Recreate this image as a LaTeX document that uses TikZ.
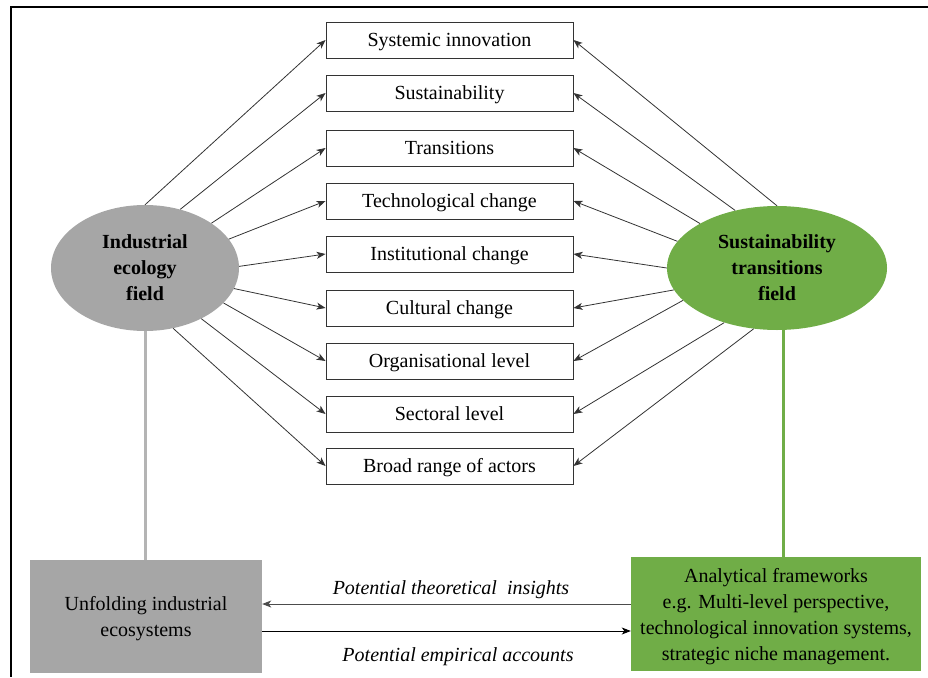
\documentclass[tikz,border=0pt]{standalone}
\usepackage{fontspec}
\setmainfont{Liberation Serif}
\usetikzlibrary{arrows.meta,shapes.geometric}
\definecolor{iegray}{HTML}{A6A6A6}
\definecolor{stgreen}{HTML}{70AD47}
\definecolor{linegray}{HTML}{B4B4B4}
\begin{document}
\begin{tikzpicture}[x=1pt,y=-1pt,
  font=\fontsize{20}{26}\selectfont,
  topic/.style={draw=black!80, line width=0.9pt, minimum width=247pt, minimum height=36pt, inner sep=0pt, text height=16pt, text depth=4pt},
  field/.style={ellipse, inner sep=0pt, align=center, text depth=-4pt, font=\fontsize{20}{26}\selectfont\bfseries},
  panel/.style={inner sep=0pt, align=center, text depth=-1.7pt, font=\fontsize{20}{26}\selectfont},
  link/.style={draw=black!80, line width=0.8pt, -{Stealth[length=9pt,width=7pt,inset=2.5pt]}},
  flow/.style={line width=0.9pt, -{Stealth[length=9pt,width=7pt,inset=2.5pt]}},
  stem/.style={line width=3pt},
  note/.style={font=\fontsize{20}{26}\selectfont\itshape}
]
\useasboundingbox (0,0) rectangle (928,677);
\draw[line width=2pt] (928,7) -- (11,7) -- (11,677);

\node[topic] (b1) at (449.5,40)  {Systemic innovation};
\node[topic] (b2) at (449.5,93)  {Sustainability};
\node[topic] (b3) at (449.5,148) {Transitions};
\node[topic] (b4) at (449.5,201) {Technological change};
\node[topic] (b5) at (449.5,254) {Institutional change};
\node[topic] (b6) at (449.5,308) {Cultural change};
\node[topic] (b7) at (449.5,361) {Organisational level};
\node[topic] (b8) at (449.5,414) {Sectoral level};
\node[topic] (b9) at (449.5,466) {Broad range of actors};

\node[field, fill=iegray, minimum width=188pt, minimum height=126pt] (L) at (145,268) {Industrial\\ecology\\field};
\node[field, fill=stgreen, minimum width=220pt, minimum height=124pt] (R) at (777,268) {Sustainability\\transitions\\field};

\foreach \i/\a in {1/90,2/59,3/34,4/19,5/1,6/347,7/336,8/318,9/295}
  \draw[link] (L.\a) -- (b\i.west);
\foreach \i/\a in {1/90,2/126,3/150,4/165,5/180,6/192,7/199,8/226,9/249}
  \draw[link] (R.\a) -- (b\i.east);

\node[panel, fill=iegray, minimum width=232pt, minimum height=113pt] (U) at (146,616.5) {Unfolding industrial\\ecosystems};
\node[panel, fill=stgreen, minimum width=290pt, minimum height=114pt] (A) at (776,614) {Analytical frameworks\\e.g. Multi-level perspective,\\technological innovation systems,\\strategic niche management.};

\draw[stem, draw=linegray] (L.south) -- (L.south |- U.north);
\draw[stem, draw=stgreen] ([xshift=6pt]R.south) -- ([xshift=6pt]R.south |- A.north);

\draw[flow, draw=black!70] ([yshift=10pt]A.west) -- ([yshift=10pt]A.west -| U.east);
\draw[flow, draw=black] ([yshift=-14.5pt]U.east) -- ([yshift=-14.5pt]U.east -| A.west);

\node[note] (t1) at (451,590) {Potential theoretical\ \ insights};
\node[note] (t2) at (458,657) {Potential empirical accounts};
\end{tikzpicture}
\end{document}
